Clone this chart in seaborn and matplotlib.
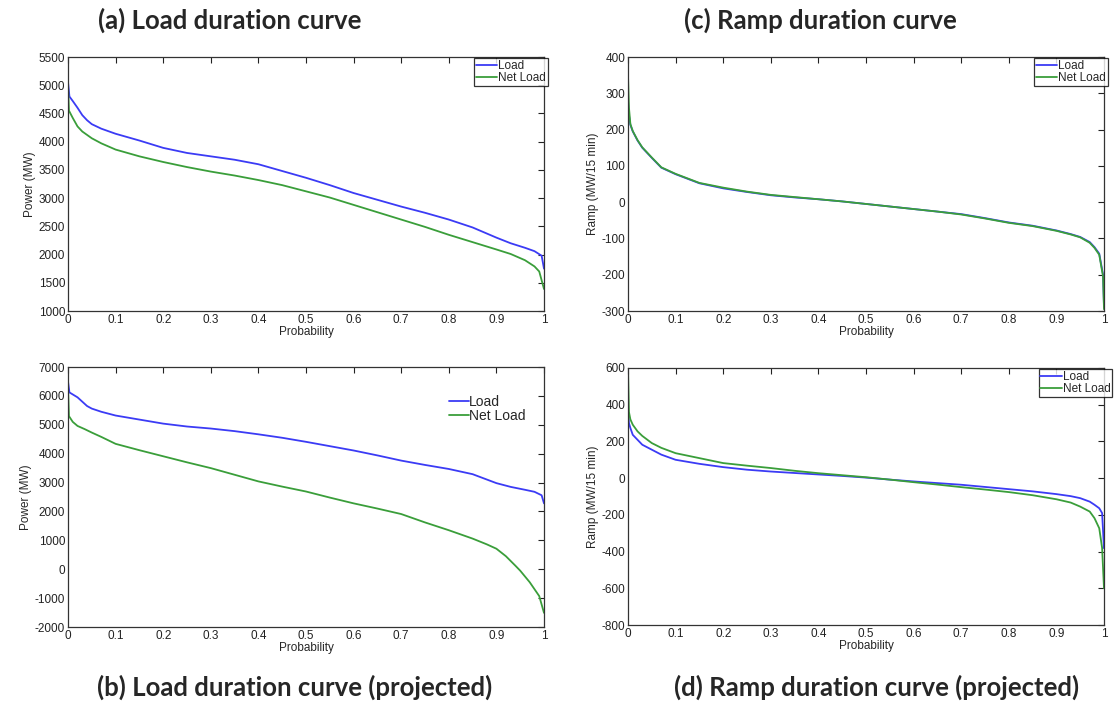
import numpy as np
import pandas as pd
import matplotlib
matplotlib.use("Agg")
import matplotlib.pyplot as plt
import seaborn as sns

# (a) load duration curve, current
prob_a = [0, 0.003, 0.01, 0.02, 0.03, 0.04, 0.05, 0.07, 0.1, 0.15, 0.2, 0.25, 0.3, 0.35, 0.4, 0.45,
          0.5, 0.55, 0.6, 0.65, 0.7, 0.75, 0.8, 0.85, 0.9, 0.93, 0.96, 0.98, 0.995, 1.0]
load_a = [5060, 4800, 4720, 4600, 4470, 4380, 4310, 4230, 4140, 4020, 3890, 3800, 3740, 3680, 3600, 3480,
          3360, 3230, 3090, 2970, 2850, 2740, 2620, 2480, 2300, 2200, 2120, 2060, 1980, 1750]
prob_a_net = [0, 0.002, 0.01, 0.02, 0.03, 0.05, 0.07, 0.1, 0.15, 0.2, 0.25, 0.3, 0.35, 0.4, 0.45,
              0.5, 0.55, 0.6, 0.65, 0.7, 0.75, 0.8, 0.85, 0.9, 0.93, 0.96, 0.98, 0.99, 1.0]
net_a = [5000, 4550, 4420, 4270, 4180, 4060, 3970, 3860, 3740, 3640, 3550, 3470, 3400, 3320, 3230,
         3120, 3010, 2880, 2750, 2620, 2490, 2350, 2220, 2090, 2010, 1900, 1790, 1700, 1390]

# (b) load duration curve, projected
prob_b = [0, 0.003, 0.01, 0.02, 0.03, 0.04, 0.05, 0.07, 0.1, 0.15, 0.2, 0.25, 0.3, 0.35, 0.4, 0.45,
          0.5, 0.55, 0.6, 0.65, 0.7, 0.75, 0.8, 0.85, 0.9, 0.93, 0.96, 0.98, 0.995, 1.0]
load_b = [6500, 6120, 6050, 5950, 5800, 5650, 5560, 5450, 5320, 5180, 5040, 4940, 4870, 4780, 4670, 4550,
          4410, 4260, 4110, 3940, 3760, 3610, 3470, 3290, 2980, 2850, 2750, 2680, 2560, 2280]
prob_b_net = [0, 0.002, 0.01, 0.02, 0.035, 0.05, 0.07, 0.1, 0.15, 0.2, 0.25, 0.3, 0.35, 0.4, 0.45,
              0.5, 0.55, 0.6, 0.65, 0.7, 0.75, 0.8, 0.85, 0.88, 0.9, 0.92, 0.94, 0.95, 0.97, 0.98, 0.99, 1.0]
net_b = [6300, 5300, 5100, 4960, 4850, 4730, 4580, 4340, 4120, 3910, 3700, 3500, 3270, 3040, 2860,
         2690, 2480, 2280, 2100, 1910, 1620, 1350, 1060, 860, 710, 450, 120, -50, -450, -690, -930, -1510]

# (c) ramp duration curve, current
prob_c = [0, 0.002, 0.005, 0.01, 0.02, 0.03, 0.05, 0.07, 0.1, 0.15, 0.2, 0.25, 0.3, 0.35, 0.4, 0.45,
          0.5, 0.55, 0.6, 0.65, 0.7, 0.75, 0.8, 0.85, 0.9, 0.93, 0.95, 0.97, 0.98, 0.99, 0.998, 1.0]
load_c = [280, 240, 213, 195, 170, 150, 122, 95, 77, 52, 38, 28, 19, 13, 8, 2,
          -5, -12, -19, -26, -33, -44, -56, -65, -78, -88, -96, -110, -124, -142, -200, -288]
net_c = [350, 260, 215, 196, 171, 151, 123, 96, 78, 53, 40, 29, 20, 14, 8, 2,
         -5, -12, -19, -26, -34, -45, -57, -66, -79, -89, -97, -112, -126, -145, -205, -295]

# (d) ramp duration curve, projected
prob_d = [0, 0.002, 0.005, 0.01, 0.02, 0.03, 0.05, 0.07, 0.1, 0.15, 0.2, 0.25, 0.3, 0.35, 0.4, 0.45,
          0.5, 0.55, 0.6, 0.65, 0.7, 0.75, 0.8, 0.85, 0.9, 0.93, 0.95, 0.97, 0.98, 0.99, 0.996, 1.0]
load_d = [380, 300, 273, 236, 209, 182, 155, 128, 100, 78, 60, 46, 36, 28, 20, 12,
          3, -8, -18, -27, -36, -48, -60, -72, -87, -98, -109, -128, -145, -164, -190, -382]
net_d = [600, 360, 320, 291, 255, 230, 191, 165, 136, 109, 82, 68, 55, 40, 27, 16,
         5, -8, -22, -35, -49, -62, -76, -93, -115, -133, -155, -182, -218, -273, -380, -600]

BLUE = "#3b3bf5"
GREEN = "#3a9e3a"

sns.set_style("white")
plt.rcParams["font.family"] = ["Liberation Sans", "DejaVu Sans"]
plt.rcParams["axes.unicode_minus"] = False

fig = plt.figure(figsize=(11.17, 7.03), dpi=100)
W, H = 1117, 703


def make_ax(x0, x1, y0, y1):
    return fig.add_axes([x0 / W, 1 - y1 / H, (x1 - x0) / W, (y1 - y0) / H])


def style(ax, ylim, yticks, ylabel):
    ax.set_xlim(0, 1)
    ax.set_ylim(*ylim)
    ax.set_xticks(np.arange(0, 1.01, 0.1))
    ax.set_xticklabels(["0"] + [f"{v:.1f}" for v in np.arange(0.1, 0.95, 0.1)] + ["1"])
    ax.set_yticks(yticks)
    ax.tick_params(direction="in", top=True, right=True, length=4, width=0.8,
                   labelsize=8.5, pad=2, colors="#222222")
    for s in ax.spines.values():
        s.set_color("#333333")
        s.set_linewidth(0.9)
    ax.set_xlabel("Probability", fontsize=8.5, labelpad=0)
    ax.set_ylabel(ylabel, fontsize=8.5, labelpad=2)


def legend_box(ax, **kw):
    leg = ax.legend(fontsize=8.5, frameon=True, fancybox=False, borderpad=0.15,
                    labelspacing=0.0, handlelength=1.8, handletextpad=0.1,
                    borderaxespad=0.1, **kw)
    leg.get_frame().set_edgecolor("black")
    leg.get_frame().set_linewidth(0.9)
    return leg


# (a)
ax_a = make_ax(68, 544, 57, 311)
sns.lineplot(x=prob_a, y=load_a, ax=ax_a, color=BLUE, lw=1.3, label="Load")
sns.lineplot(x=prob_a_net, y=net_a, ax=ax_a, color=GREEN, lw=1.3, label="Net Load")
style(ax_a, (1000, 5500), np.arange(1000, 5501, 500), "Power (MW)")
legend_box(ax_a, loc="upper right", bbox_to_anchor=(1.01, 1.0))

# (c)
ax_c = make_ax(628, 1104, 57, 311)
sns.lineplot(x=prob_c, y=load_c, ax=ax_c, color=BLUE, lw=1.3, label="Load")
sns.lineplot(x=prob_c, y=net_c, ax=ax_c, color=GREEN, lw=1.3, label="Net Load")
style(ax_c, (-300, 400), np.arange(-300, 401, 100), "Ramp (MW/15 min)")
legend_box(ax_c, loc="upper right", bbox_to_anchor=(1.01, 1.0))

# (b)
ax_b = make_ax(68, 544, 367, 627)
sns.lineplot(x=prob_b, y=load_b, ax=ax_b, color=BLUE, lw=1.3, label="Load")
sns.lineplot(x=prob_b_net, y=net_b, ax=ax_b, color=GREEN, lw=1.3, label="Net Load")
style(ax_b, (-2000, 7000), np.arange(-2000, 7001, 1000), "Power (MW)")
ax_b.legend(fontsize=10, frameon=False, labelspacing=0.0, handlelength=1.4,
            handletextpad=0.0, loc="upper left", bbox_to_anchor=(0.775, 0.94))

# (d)
ax_d = make_ax(628, 1104, 368, 625)
sns.lineplot(x=prob_d, y=load_d, ax=ax_d, color=BLUE, lw=1.3, label="Load")
sns.lineplot(x=prob_d, y=net_d, ax=ax_d, color=GREEN, lw=1.3, label="Net Load")
style(ax_d, (-800, 600), np.arange(-800, 601, 200), "Ramp (MW/15 min)")
legend_box(ax_d, loc="upper right", bbox_to_anchor=(1.02, 1.0))

# panel captions
cap = dict(fontsize=18.5, fontweight="bold", family=["Lato", "DejaVu Sans"], va="center")
fig.text(230 / W, 1 - 20 / H, "(a) Load duration curve", ha="center", **cap)
fig.text(820 / W, 1 - 20 / H, "(c) Ramp duration curve", ha="center", **cap)
fig.text(97 / W, 1 - 687 / H, "(b) Load duration curve (projected)", ha="left", **cap)
fig.text(674 / W, 1 - 687 / H, "(d) Ramp duration curve (projected)", ha="left", **cap)

fig.savefig("out.png", dpi=100)
